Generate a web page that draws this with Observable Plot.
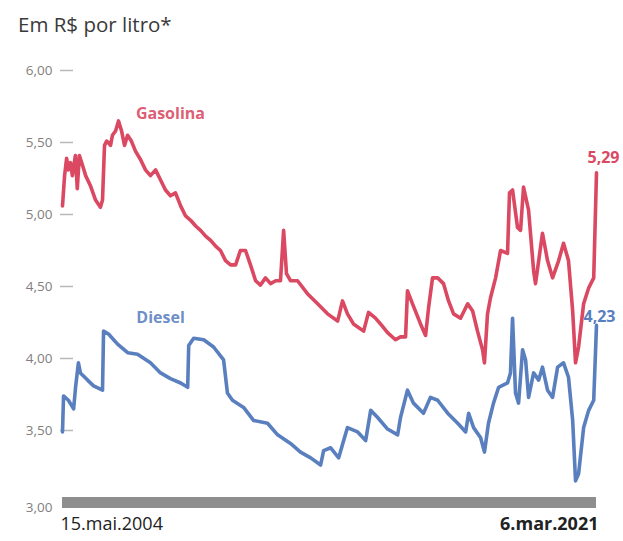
<!DOCTYPE html>
<html>
<head>
<meta charset="utf-8">
<script src="https://cdn.jsdelivr.net/npm/d3@7"></script>
<script src="https://cdn.jsdelivr.net/npm/@observablehq/plot@0.6"></script>
<style>
  html, body { margin: 0; padding: 0; background: #fff; }
  #wrap { width: 623px; height: 541px; font-family: "Open Sans", sans-serif; }
  #title { height: 50px; line-height: 48px; padding-left: 18px; font-size: 20.5px; color: #3a3a3a; }
  svg { display: block; }
</style>
</head>
<body>
<div id="wrap">
  <div id="title">Em R$ por litro*</div>
  <div id="chart"></div>
</div>
<script>
const gasDates = ["2004-05-15","2004-06-08","2004-07-01","2004-07-22","2004-08-15","2004-09-05","2004-10-10","2004-11-01","2004-11-25","2005-01-01","2005-02-05","2005-04-01","2005-05-30","2005-07-25","2005-08-18","2005-09-10","2005-10-05","2005-11-18","2005-12-10","2006-01-15","2006-02-18","2006-03-25","2006-04-28","2006-06-02","2006-07-16","2006-09-01","2006-10-30","2006-12-25","2007-02-20","2007-04-20","2007-06-16","2007-08-12","2007-10-08","2007-12-05","2008-02-02","2008-03-30","2008-05-27","2008-07-24","2008-09-18","2008-11-15","2009-01-12","2009-03-10","2009-05-05","2009-07-02","2009-08-29","2009-10-26","2009-12-20","2010-02-17","2010-04-15","2010-06-13","2010-08-08","2010-10-05","2010-12-02","2011-01-30","2011-03-26","2011-05-01","2011-06-03","2011-07-19","2011-10-08","2012-01-30","2012-05-26","2012-09-17","2013-01-11","2013-03-08","2013-05-04","2013-07-12","2013-11-06","2014-01-01","2014-03-22","2014-05-19","2014-08-08","2014-11-07","2015-01-04","2015-03-03","2015-03-25","2015-05-22","2015-08-22","2015-10-19","2015-11-22","2016-01-07","2016-03-06","2016-05-12","2016-07-09","2016-09-05","2016-11-24","2017-02-14","2017-04-12","2017-06-07","2017-08-04","2017-08-26","2017-09-30","2017-11-03","2018-01-01","2018-02-27","2018-05-18","2018-06-10","2018-07-15","2018-09-10","2018-10-15","2018-11-18","2019-01-15","2019-03-14","2019-04-05","2019-06-24","2019-08-21","2019-10-18","2019-12-27","2020-02-21","2020-04-18","2020-06-05","2020-07-08","2020-08-12","2020-10-09","2020-12-06","2021-02-02","2021-03-06"];
const gasValues = [5.06,5.27,5.39,5.31,5.36,5.27,5.41,5.18,5.41,5.34,5.27,5.20,5.10,5.05,5.10,5.48,5.51,5.48,5.55,5.58,5.65,5.58,5.48,5.55,5.51,5.44,5.38,5.31,5.27,5.31,5.24,5.17,5.13,5.15,5.06,4.99,4.96,4.92,4.89,4.85,4.82,4.78,4.75,4.68,4.65,4.65,4.75,4.75,4.65,4.54,4.51,4.56,4.52,4.54,4.54,4.89,4.59,4.54,4.54,4.45,4.38,4.31,4.26,4.40,4.31,4.24,4.19,4.32,4.28,4.24,4.18,4.13,4.15,4.15,4.47,4.38,4.24,4.16,4.35,4.56,4.56,4.52,4.40,4.31,4.28,4.38,4.33,4.19,4.06,3.97,4.31,4.42,4.56,4.75,4.73,5.15,5.17,4.91,4.89,5.19,5.03,4.61,4.52,4.87,4.68,4.56,4.68,4.80,4.68,4.33,3.97,4.08,4.38,4.49,4.56,5.29];

const dieselDates = ["2004-05-15","2004-05-27","2004-07-22","2004-09-20","2004-10-12","2004-11-14","2004-12-07","2005-02-27","2005-05-07","2005-08-18","2005-08-30","2005-10-26","2006-02-07","2006-06-03","2006-09-25","2007-02-20","2007-06-16","2007-10-08","2008-02-02","2008-04-23","2008-05-05","2008-07-01","2008-10-24","2009-02-15","2009-06-10","2009-07-24","2009-09-20","2010-01-26","2010-05-20","2010-10-28","2011-02-21","2011-07-19","2011-11-11","2012-03-07","2012-06-29","2012-08-03","2012-10-23","2013-01-23","2013-05-04","2013-08-29","2013-11-29","2014-01-26","2014-04-16","2014-08-08","2014-12-02","2015-01-04","2015-03-25","2015-06-02","2015-09-25","2015-12-14","2016-03-06","2016-06-29","2016-10-22","2017-01-22","2017-02-25","2017-04-23","2017-07-13","2017-08-26","2017-10-11","2017-12-08","2018-02-05","2018-05-18","2018-06-21","2018-07-15","2018-08-18","2018-09-22","2018-11-07","2018-12-12","2019-01-15","2019-03-14","2019-05-11","2019-06-24","2019-08-21","2019-10-18","2019-12-15","2020-02-21","2020-04-18","2020-06-05","2020-07-08","2020-08-12","2020-10-09","2020-12-06","2021-02-02","2021-03-06"];
const dieselValues = [3.49,3.74,3.71,3.65,3.80,3.97,3.90,3.85,3.81,3.78,4.19,4.17,4.10,4.04,4.03,3.97,3.90,3.86,3.83,3.80,4.09,4.14,4.13,4.08,3.99,3.76,3.71,3.66,3.57,3.55,3.47,3.41,3.35,3.31,3.26,3.36,3.38,3.31,3.52,3.49,3.43,3.64,3.59,3.51,3.47,3.59,3.78,3.69,3.62,3.73,3.71,3.62,3.55,3.49,3.62,3.52,3.45,3.35,3.55,3.69,3.80,3.83,3.90,4.28,3.76,3.69,4.06,3.99,3.73,3.90,3.85,3.94,3.78,3.73,3.94,3.97,3.87,3.57,3.15,3.20,3.52,3.64,3.71,4.23];

const yTicks = [3, 3.5, 4, 4.5, 5, 5.5, 6];
const seriesNames = ["Gasolina", "Diesel"];
const endLabels = ["5,29", "4,23"];
const dateLabels = ["15.mai.2004", "6.mar.2021"];

const RED = "#da4862";
const BLUE = "#5a7fbf";

const parse = s => new Date(s);
const gas = gasDates.map((d, i) => ({date: parse(d), value: gasValues[i]}));
const diesel = dieselDates.map((d, i) => ({date: parse(d), value: dieselValues[i]}));
const start = parse(gasDates[0]);
const end = parse(gasDates[gasDates.length - 1]);
const fmt = d => d.toFixed(2).replace(".", ",");
const upperTicks = yTicks.filter(d => d > 3);

const W = 623, ML = 62, MR = 27;

const chart = Plot.plot({
  width: W,
  height: 491,
  marginTop: 20,
  marginBottom: 39,
  marginLeft: ML,
  marginRight: MR,
  style: {fontFamily: "'Open Sans', sans-serif", background: "transparent", color: "#808080", fontSize: "13.5px"},
  x: {type: "utc", domain: [start, end], axis: null},
  y: {domain: [3, 6], ticks: upperTicks, tickSize: 0, tickPadding: 10, tickFormat: fmt, label: null},
  marks: [
    Plot.ruleY([3], {stroke: "#8e8e8e", strokeWidth: 11}),
    Plot.tickY(upperTicks, {y: d => d, stroke: "#b8b8b8", strokeWidth: 1.5, dx: -2, insetRight: W - ML - MR - 13}),
    Plot.text([3], {x: () => start, y: d => d, text: fmt, textAnchor: "end", dx: -10, dy: 5, fill: "#808080", fontSize: 13.5}),
    Plot.line(gas, {x: "date", y: "value", stroke: RED, strokeWidth: 3.6, strokeLinejoin: "round"}),
    Plot.line(diesel, {x: "date", y: "value", stroke: BLUE, strokeWidth: 3.6, strokeLinejoin: "round"}),
    Plot.text([seriesNames[0]], {x: () => parse("2007-10-08"), y: () => 5.70, text: d => d, fill: RED, fontSize: 16, fontWeight: "bold", fillOpacity: 0.9}),
    Plot.text([seriesNames[1]], {x: () => parse("2007-06-16"), y: () => 4.28, text: d => d, fill: BLUE, fontSize: 16, fontWeight: "bold", fillOpacity: 0.9}),
    Plot.text([gas[gas.length - 1]], {x: "date", y: "value", text: () => endLabels[0], fill: RED, fontSize: 16, fontWeight: "bold", textAnchor: "start", dx: -9, dy: -15}),
    Plot.text([diesel[diesel.length - 1]], {x: "date", y: "value", text: () => endLabels[1], fill: BLUE, fontSize: 16, fontWeight: "bold", textAnchor: "start", dx: -13, dy: -9}),
    Plot.text([dateLabels[0]], {x: () => start, y: () => 3, text: d => d, textAnchor: "start", dy: 22, dx: -2, fontSize: 18, fill: "#222"}),
    Plot.text([dateLabels[1]], {x: () => end, y: () => 3, text: d => d, textAnchor: "end", dy: 22, dx: 2, fontSize: 18, fontWeight: "bold", fill: "#222"})
  ]
});
document.getElementById("chart").appendChild(chart);
</script>
</body>
</html>
